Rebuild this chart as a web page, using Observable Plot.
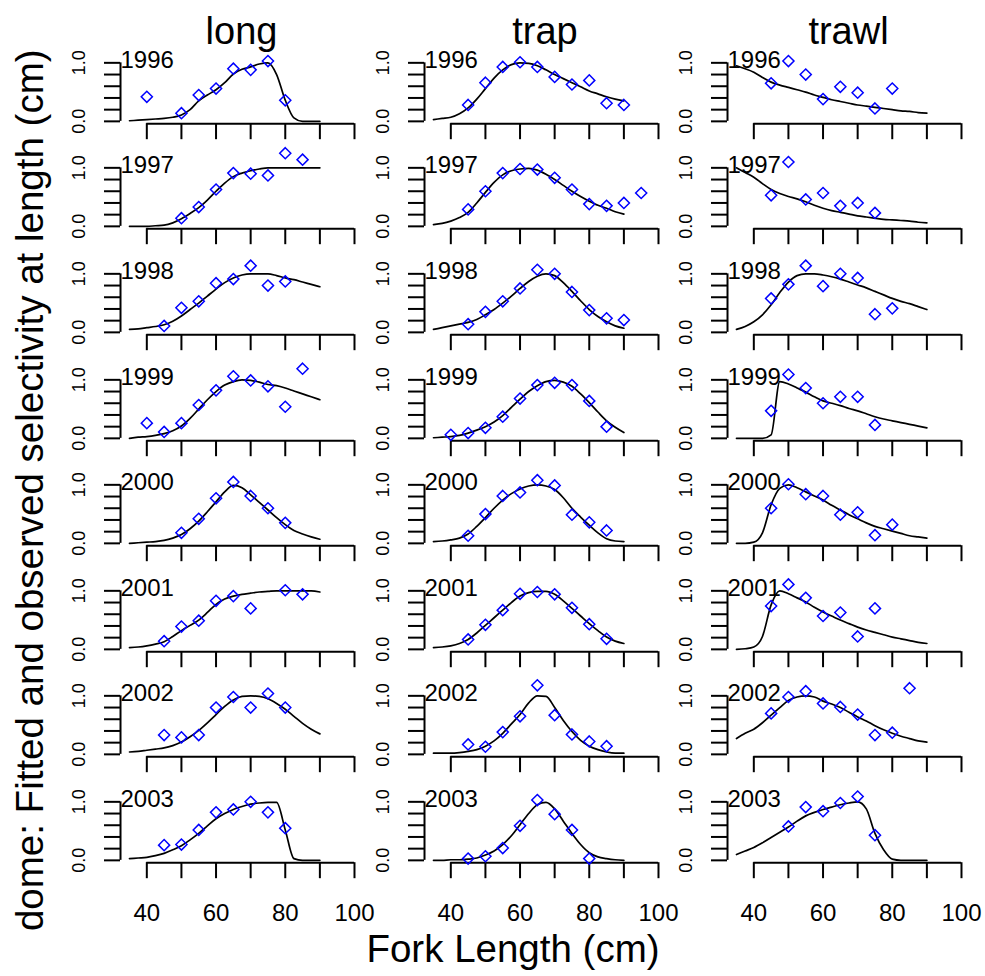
<!DOCTYPE html>
<html><head><meta charset="utf-8">
<script src="https://cdn.jsdelivr.net/npm/d3@7"></script>
<script src="https://cdn.jsdelivr.net/npm/@observablehq/plot@0.6"></script>
<style>
body{margin:0;background:#fff;}
#chart{position:relative;width:985px;height:976px;background:#fff;font-family:"Liberation Sans",Arial,sans-serif;color:#000;overflow:hidden}
.panel{position:absolute}
.ttl{position:absolute;white-space:nowrap;color:#000;font-family:"Liberation Sans",Arial,sans-serif}
</style></head>
<body><div id="chart"></div>
<script>
// ---- data ----
const gears = ["long", "trap", "trawl"];
const years = [1996, 1997, 1998, 1999, 2000, 2001, 2002, 2003];
const xTicks = [40, 50, 60, 70, 80, 90, 100];
const xTickLabels = ["40", "", "60", "", "80", "", "100"];
const yTicks = [0, 0.2, 0.4, 0.6, 0.8, 1.0];
const yTickLabels = ["0.0", "", "", "", "", "1.0"];
const xTitle = "Fork Length (cm)";
const yTitle = "dome: Fitted and observed selectivity at length (cm)";

// fitted-curve lengths (cm)
const fitLen = [35, 37.5, 40, 42.5, 45, 47.5, 50, 52.5, 55, 57.5, 60, 62.5, 65, 67.5, 70, 72.5, 75, 77.5, 80, 82.5, 85, 87.5, 90];
// observed lengths (cm)
const obsLen = [40, 45, 50, 55, 60, 65, 70, 75, 80, 85, 90, 95];

const longFit = [
  [0.01,0.02,0.03,0.04,0.05,0.07,0.11,0.20,0.35,0.45,0.54,0.66,0.81,0.89,0.93,0.98,1.0,0.80,0.36,0.06,0.0,0.0,0.0],
  [0.0,0.0,0.0,0.01,0.02,0.06,0.13,0.22,0.32,0.45,0.60,0.74,0.85,0.91,0.95,0.98,1.0,1.0,1.0,1.0,1.0,1.0,1.0],
  [0.05,0.06,0.08,0.10,0.13,0.19,0.28,0.39,0.50,0.62,0.74,0.85,0.93,0.98,1.0,1.0,1.0,0.97,0.93,0.90,0.86,0.82,0.78],
  [0.0,0.02,0.03,0.05,0.08,0.13,0.21,0.34,0.50,0.66,0.80,0.91,0.97,1.0,0.99,0.96,0.92,0.90,0.86,0.81,0.76,0.71,0.66],
  [0.0,0.01,0.02,0.03,0.05,0.09,0.15,0.25,0.38,0.54,0.71,0.88,0.99,0.95,0.83,0.70,0.57,0.44,0.32,0.22,0.16,0.11,0.07],
  [0.03,0.04,0.06,0.09,0.13,0.22,0.32,0.41,0.50,0.63,0.77,0.86,0.91,0.94,0.96,0.98,0.99,1.0,1.0,1.0,1.0,1.0,0.98],
  [0.04,0.05,0.07,0.09,0.11,0.15,0.21,0.30,0.41,0.54,0.68,0.82,0.93,0.99,1.0,0.99,0.95,0.87,0.77,0.65,0.53,0.43,0.35],
  [0.03,0.04,0.05,0.08,0.12,0.18,0.25,0.35,0.46,0.59,0.71,0.80,0.87,0.92,0.96,0.98,0.99,0.99,0.52,0.03,0.0,0.0,0.0]
];
const trapFit = [
  [0.03,0.05,0.07,0.13,0.23,0.38,0.56,0.74,0.88,0.97,1.0,0.99,0.95,0.88,0.80,0.73,0.66,0.59,0.52,0.47,0.42,0.38,0.35],
  [0.03,0.05,0.09,0.15,0.24,0.40,0.58,0.75,0.88,0.95,0.98,0.99,0.96,0.89,0.80,0.70,0.60,0.51,0.43,0.36,0.31,0.25,0.21],
  [0.05,0.08,0.11,0.14,0.17,0.22,0.30,0.39,0.50,0.62,0.75,0.87,0.96,1.0,0.97,0.85,0.70,0.54,0.39,0.27,0.18,0.11,0.07],
  [0.01,0.02,0.03,0.05,0.09,0.14,0.20,0.28,0.39,0.53,0.67,0.80,0.90,0.97,0.99,0.96,0.89,0.76,0.61,0.45,0.30,0.19,0.10],
  [0.03,0.04,0.06,0.09,0.16,0.29,0.44,0.60,0.74,0.85,0.93,0.98,1.0,0.98,0.92,0.78,0.60,0.45,0.31,0.18,0.08,0.04,0.03],
  [0.03,0.04,0.06,0.10,0.17,0.28,0.41,0.54,0.67,0.80,0.91,0.97,0.99,0.99,0.94,0.83,0.70,0.57,0.44,0.32,0.21,0.14,0.10],
  [0.02,0.02,0.02,0.03,0.05,0.08,0.14,0.23,0.36,0.52,0.68,0.88,1.0,0.99,0.80,0.58,0.39,0.24,0.14,0.08,0.04,0.02,0.02],
  [0.0,0.0,0.01,0.01,0.02,0.04,0.09,0.16,0.27,0.42,0.61,0.80,0.95,0.99,0.88,0.67,0.46,0.27,0.13,0.06,0.03,0.01,0.0]
];
const trawlFit = [
  [0.95,0.90,0.84,0.75,0.67,0.62,0.58,0.54,0.50,0.45,0.41,0.37,0.34,0.31,0.28,0.26,0.24,0.22,0.20,0.18,0.17,0.15,0.14],
  [1.0,0.92,0.84,0.73,0.63,0.56,0.51,0.47,0.42,0.36,0.31,0.27,0.24,0.21,0.18,0.16,0.14,0.12,0.11,0.10,0.09,0.07,0.06],
  [0.05,0.10,0.18,0.30,0.47,0.68,0.86,0.97,1.0,1.0,0.98,0.95,0.91,0.86,0.81,0.76,0.70,0.64,0.58,0.53,0.49,0.44,0.39],
  [0.0,0.0,0.0,0.0,0.06,0.97,0.93,0.86,0.79,0.71,0.64,0.60,0.56,0.51,0.47,0.42,0.37,0.33,0.30,0.27,0.24,0.21,0.18],
  [0.0,0.0,0.02,0.18,0.66,0.94,1.0,0.95,0.88,0.81,0.74,0.65,0.57,0.49,0.42,0.35,0.29,0.25,0.21,0.17,0.13,0.11,0.09],
  [0.0,0.01,0.04,0.22,0.76,1.0,0.95,0.88,0.81,0.72,0.64,0.57,0.50,0.44,0.38,0.33,0.29,0.25,0.21,0.18,0.15,0.12,0.10],
  [0.27,0.36,0.43,0.54,0.67,0.80,0.92,0.98,1.0,0.98,0.91,0.86,0.80,0.72,0.64,0.57,0.49,0.42,0.36,0.31,0.27,0.23,0.21],
  [0.10,0.16,0.22,0.30,0.39,0.48,0.57,0.67,0.76,0.82,0.87,0.91,0.95,0.98,1.0,0.88,0.46,0.18,0.02,0.0,0.0,0.0,0.0]
];

const longObs = [
  [0.42,null,0.14,0.45,0.56,0.90,0.88,1.03,0.36,null,null,null],
  [null,null,0.14,0.33,0.63,0.91,0.90,0.87,1.25,1.14,null,null],
  [null,0.11,0.42,0.53,0.84,0.91,1.14,0.80,0.87,null,null,null],
  [0.26,0.11,0.26,0.57,0.82,1.06,0.99,0.89,0.54,1.19,null,null],
  [null,null,0.18,0.42,0.77,1.05,0.81,0.60,0.35,null,null,null],
  [null,0.14,0.39,0.49,0.83,0.91,0.70,null,1.01,0.94,null,null],
  [null,0.33,0.29,0.33,0.80,0.98,0.80,1.04,0.80,null,null,null],
  [null,0.26,0.27,0.52,0.82,0.87,1.0,0.82,0.55,null,null,null]
];
const trapObs = [
  [null,0.28,0.66,0.93,1.01,0.93,0.76,0.63,0.70,0.31,0.28,null],
  [null,0.29,0.60,0.91,0.98,0.97,0.83,0.63,0.38,0.35,0.40,0.57],
  [null,0.14,0.35,0.53,0.75,1.07,1.0,0.69,0.38,0.24,0.21,null],
  [0.06,0.09,0.18,0.37,0.68,0.91,0.95,0.91,0.64,0.20,null,null],
  [null,0.13,0.50,0.81,0.87,1.08,0.99,0.49,0.36,0.22,null,null],
  [null,0.17,0.42,0.67,0.95,0.98,0.94,0.71,0.43,0.18,null,null],
  [null,0.17,0.13,0.38,0.65,1.18,0.67,0.34,0.22,0.14,null,null],
  [null,0.03,0.07,0.21,0.59,1.03,0.79,0.52,0.03,null,null,null]
];
const trawlObs = [
  [null,0.65,1.03,0.80,0.38,0.59,0.49,0.22,0.56,null,null,null],
  [null,0.53,1.10,0.46,0.57,0.35,0.40,0.23,null,null,null,null],
  [null,0.58,0.82,1.14,0.79,1.0,0.93,0.31,0.41,null,null,null],
  [null,0.47,1.09,0.86,0.60,0.71,0.71,0.23,null,null,null,null],
  [null,0.60,1.01,0.84,0.81,0.49,0.53,0.14,0.32,null,null,null],
  [null,0.74,1.11,0.88,0.57,0.63,0.22,0.70,null,null,null,null],
  [null,0.70,0.98,1.08,0.87,0.81,0.68,0.33,0.37,1.13,null,null],
  [null,null,0.58,0.91,0.84,0.98,1.09,0.43,null,null,null,null]
];

const fits = [longFit, trapFit, trawlFit];
const obss = [longObs, trapObs, trawlObs];

// ---- layout ----
const chart = document.getElementById("chart");
const FW = 243, FH = 63.2, ML = 60, MR = 25, MT = 22, ROWH = 105.6, COLW = 303.5, LEFT0 = 120, TOP0 = 59.7;
const xDomain = [32.4, 102.6], yDomain = [-0.04, 1.04];
const FONT = "'Liberation Sans',Arial,sans-serif";

gears.forEach((g, c) => {
  years.forEach((yr, r) => {
    const last = r === years.length - 1;
    const MB = last ? 80 : ROWH - MT - FH;
    const fit = fitLen.map((x, i) => ({len: x, sel: fits[c][r][i]}));
    const obs = obsLen.map((x, i) => ({len: x, sel: obss[c][r][i]})).filter(d => d.sel != null);
    const W = ML + FW + MR, H = MT + FH + MB;
    const svg = Plot.plot({
      width: W, height: H,
      marginLeft: ML, marginRight: MR, marginTop: MT, marginBottom: MB,
      x: {domain: xDomain, label: null},
      y: {domain: yDomain, label: null},
      style: `background:transparent;overflow:visible;font-family:${FONT};color:#000;`,
      marks: [
        Plot.ruleX([xDomain[0]], {y1: yTicks[0], y2: yTicks[yTicks.length - 1], stroke: "#000", strokeWidth: 2}),
        Plot.ruleY([yDomain[0]], {x1: xTicks[0], x2: xTicks[xTicks.length - 1], stroke: "#000", strokeWidth: 2}),
        Plot.axisY({ticks: yTicks, tickSize: 16, tickPadding: 20, tickRotate: -90,
          tickFormat: d => yTickLabels[yTicks.indexOf(d)], fontSize: 18, strokeWidth: 2, label: null}),
        Plot.axisX({ticks: xTicks, tickSize: 16, tickPadding: 25,
          tickFormat: d => last ? xTickLabels[xTicks.indexOf(d)] : "", fontSize: 24, strokeWidth: 2, label: null}),
        Plot.line(fit, {x: "len", y: "sel", curve: "monotone-x", stroke: "#000", strokeWidth: 1.7}),
        Plot.dot(obs, {x: "len", y: "sel", symbol: "diamond2", r: 5, stroke: "#0000ff", strokeWidth: 1.5, fill: "none"}),
        Plot.text([String(yr)], {frameAnchor: "top-left", text: d => d, textAnchor: "start", lineAnchor: "middle", fontSize: 24, fill: "#000"})
      ]
    });
    const div = document.createElement("div");
    div.className = "panel";
    div.style.left = (LEFT0 + COLW * c - ML) + "px";
    div.style.top = (TOP0 + ROWH * r - MT) + "px";
    div.style.width = W + "px";
    div.style.height = H + "px";
    div.appendChild(svg);
    chart.appendChild(div);
  });
  // column title
  const t = document.createElement("div");
  t.className = "ttl";
  t.textContent = g;
  t.style.fontSize = "38px"; t.style.lineHeight = "38px";
  t.style.left = (LEFT0 + COLW * c + FW / 2) + "px";
  t.style.top = "11.8px";
  t.style.transform = "translateX(-50%)";
  chart.appendChild(t);
});

// x title
const xt = document.createElement("div");
xt.className = "ttl";
xt.textContent = xTitle;
xt.style.fontSize = "38.5px"; xt.style.lineHeight = "38.5px";
xt.style.left = "513px"; xt.style.top = "930.4px";
xt.style.transform = "translateX(-50%)";
chart.appendChild(xt);

// y title
const yt = document.createElement("div");
yt.className = "ttl";
yt.textContent = yTitle;
yt.style.fontSize = "38.5px"; yt.style.lineHeight = "38.5px";
yt.style.width = "950px"; yt.style.height = "38.5px"; yt.style.textAlign = "center";
yt.style.left = (29.7 - 475) + "px"; yt.style.top = (490 - 19.25) + "px";
yt.style.transform = "rotate(-90deg)";
yt.style.transformOrigin = "50% 50%";
chart.appendChild(yt);
</script>
</body></html>
